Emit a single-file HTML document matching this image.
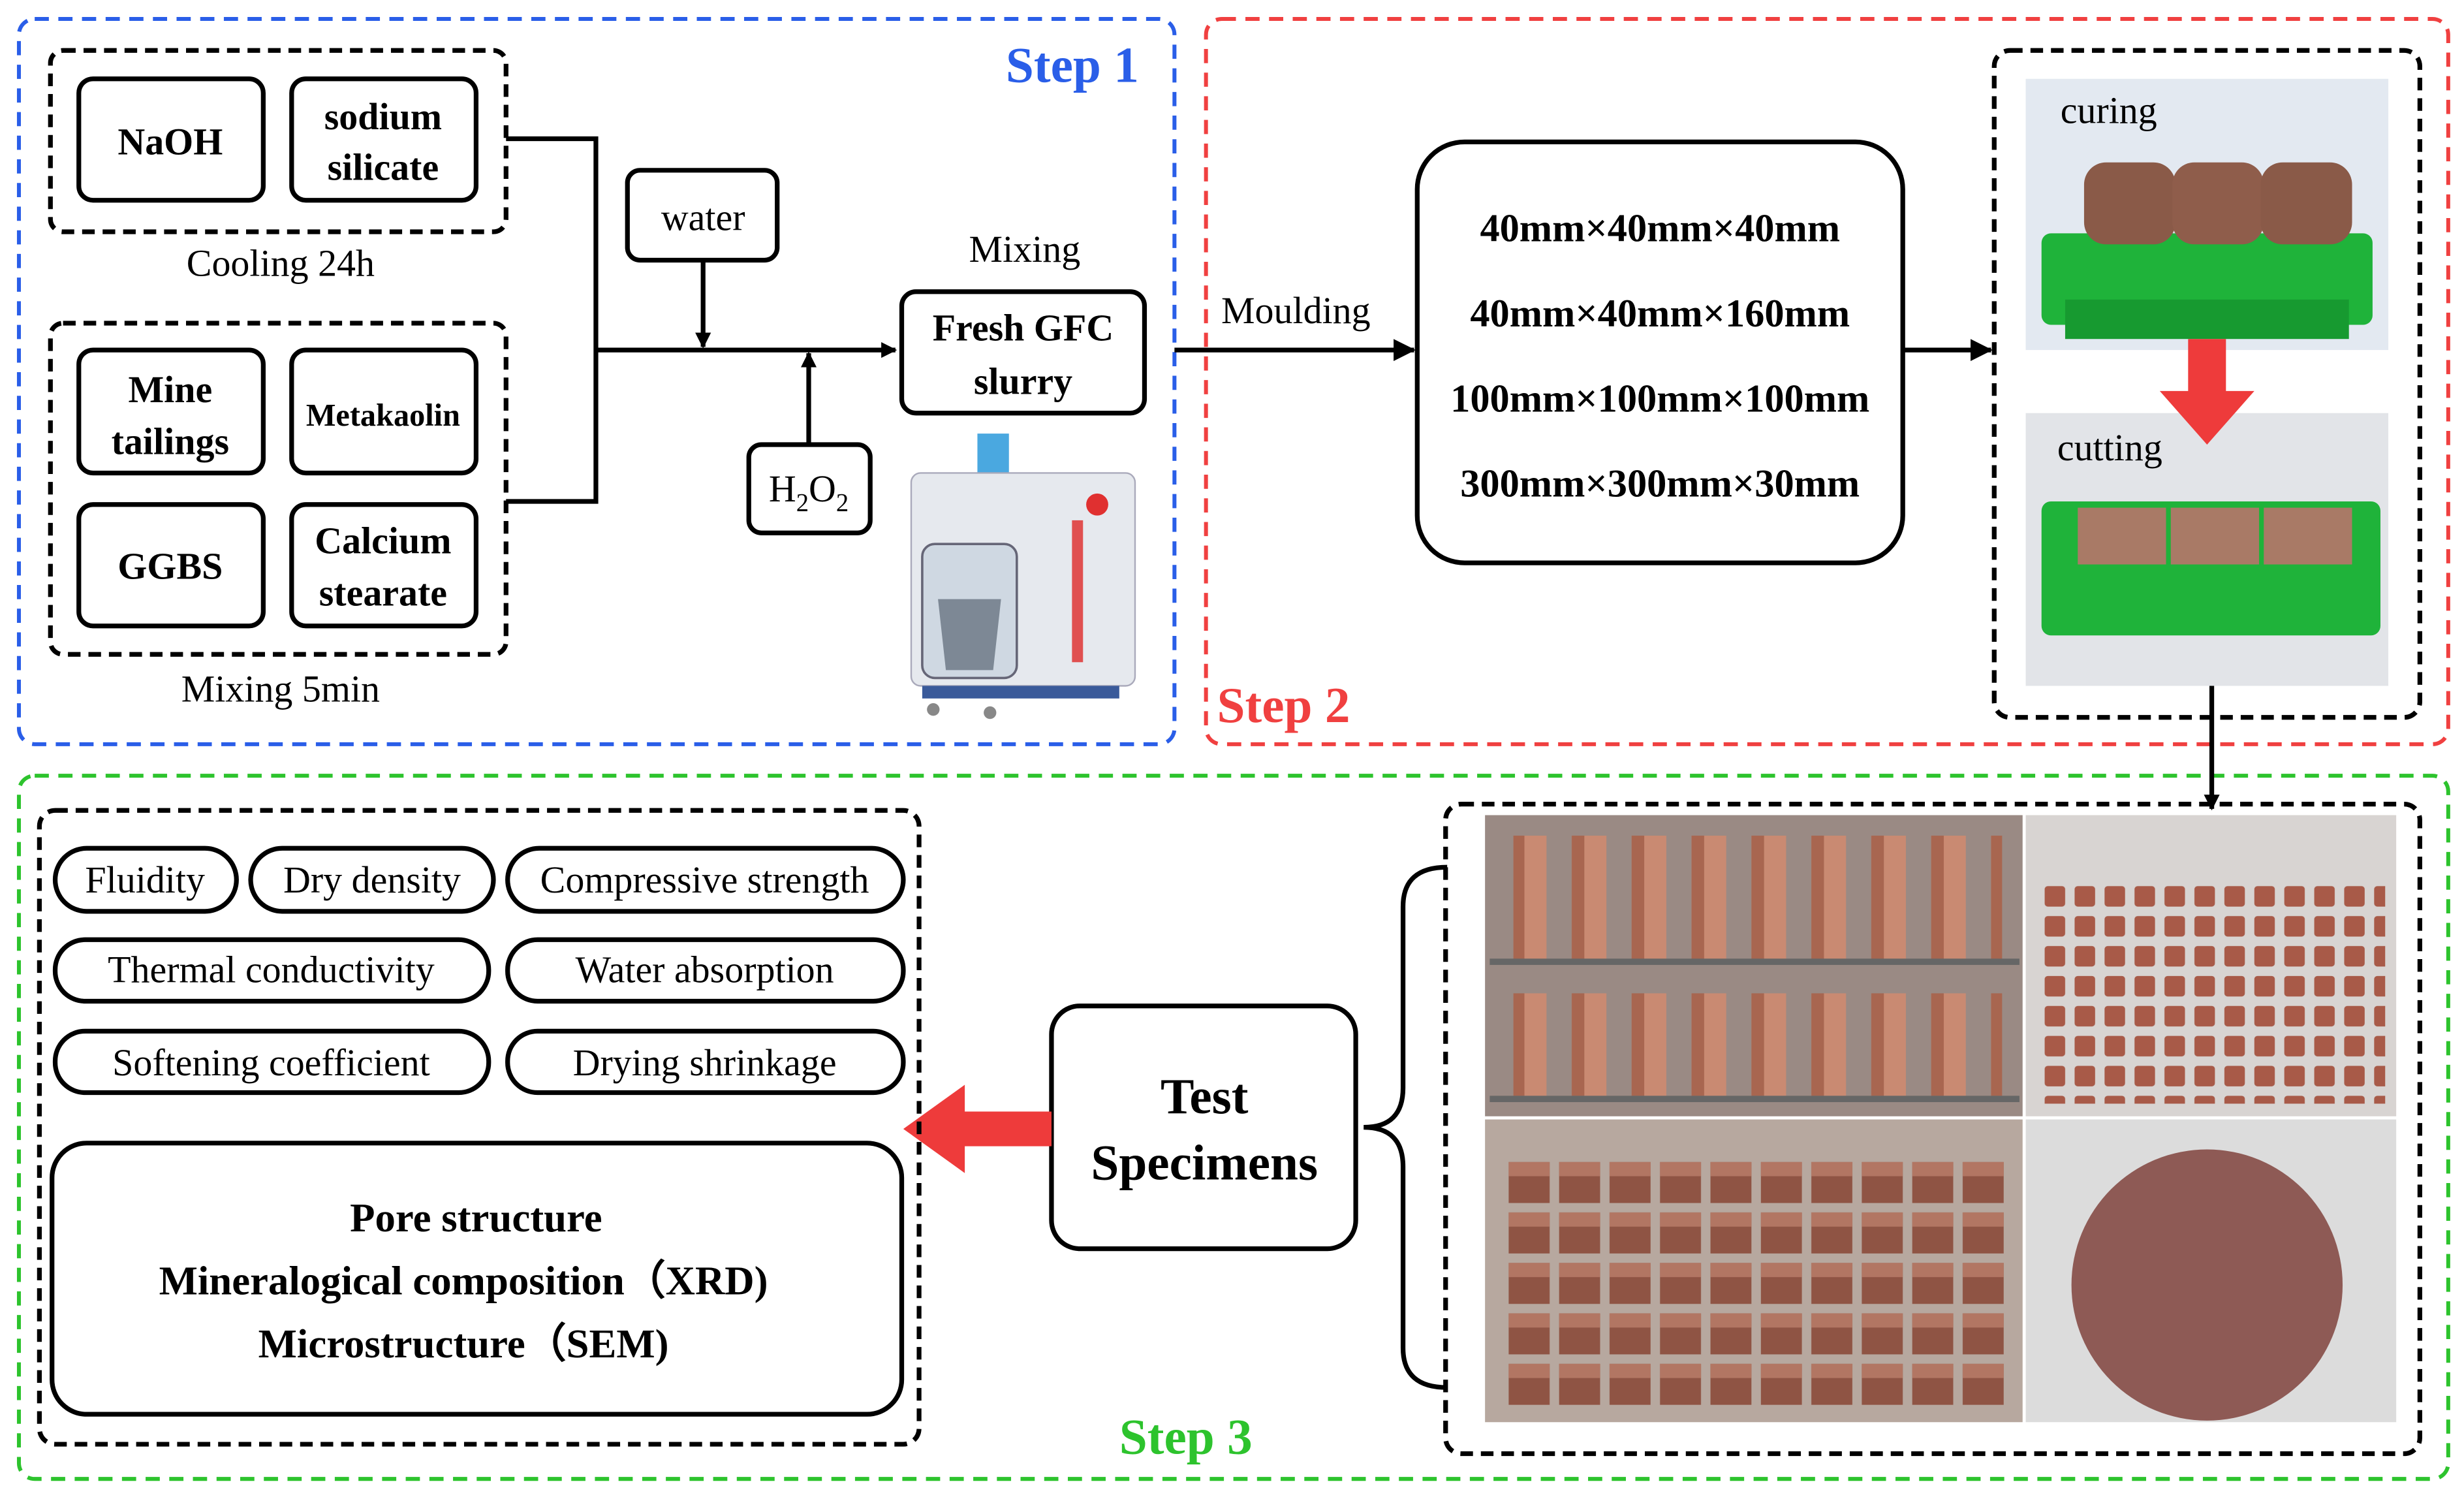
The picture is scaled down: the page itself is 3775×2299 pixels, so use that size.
<!DOCTYPE html>
<html><head><meta charset="utf-8">
<style>
html,body{margin:0;padding:0;background:#fff;}
svg{display:block;}
text{font-family:"Liberation Serif",serif;}
</style></head>
<body>
<svg width="3775" height="2299" viewBox="0 0 1563 952" preserveAspectRatio="none" xmlns="http://www.w3.org/2000/svg">
<defs>
<marker id="ah" markerWidth="10" markerHeight="10" refX="9" refY="5" orient="auto" markerUnits="userSpaceOnUse">
<path d="M0,0 L10,5 L0,10 Z" fill="#000"/></marker>
<marker id="ah2" markerWidth="14" markerHeight="14" refX="13" refY="7" orient="auto" markerUnits="userSpaceOnUse">
<path d="M0,0 L14,7 L0,14 Z" fill="#000"/></marker>
<pattern id="bricks" x="955" y="0" width="38" height="200" patternUnits="userSpaceOnUse">
<rect x="4" y="0" width="22" height="200" fill="#c98a72"/><rect x="4" y="0" width="8" height="200" fill="#a86650"/>
</pattern>
<pattern id="small" x="1295" y="560" width="19" height="19" patternUnits="userSpaceOnUse">
<rect x="2" y="2" width="13" height="13" rx="2" fill="#a85a48"/>
</pattern>
<pattern id="cubes" x="955" y="735" width="32" height="32" patternUnits="userSpaceOnUse">
<rect x="2" y="2" width="26" height="26" fill="#8f5444"/><rect x="2" y="2" width="26" height="9" fill="#b27663"/>
</pattern>
</defs>

<rect x="12" y="12" width="733" height="460" rx="10" fill="none" stroke="#2a5ee8" stroke-width="2.5" stroke-dasharray="9,6"/>
<rect x="765" y="12" width="788" height="460" rx="10" fill="none" stroke="#f04040" stroke-width="2.5" stroke-dasharray="9,6"/>
<rect x="12" y="492" width="1541" height="446" rx="10" fill="none" stroke="#2dc32d" stroke-width="2.5" stroke-dasharray="9,6"/>
<text x="638" y="52" font-size="32" font-weight="bold" fill="#2a5ee8">Step 1</text>
<text x="772" y="458" font-size="32" font-weight="bold" fill="#f04040">Step 2</text>
<text x="710" y="922" font-size="32" font-weight="bold" fill="#2dc32d">Step 3</text>

<g fill="none" stroke="#000" stroke-width="3" stroke-dasharray="8,5">
<rect x="32" y="32" width="289" height="115" rx="8"/>
<rect x="32" y="205" width="289" height="210" rx="8"/>
</g>
<g fill="#fff" stroke="#000" stroke-width="3">
<rect x="50" y="50" width="117" height="77" rx="9"/>
<rect x="185" y="50" width="117" height="77" rx="9"/>
<rect x="50" y="222" width="117" height="78" rx="9"/>
<rect x="185" y="222" width="117" height="78" rx="9"/>
<rect x="50" y="320" width="117" height="77" rx="9"/>
<rect x="185" y="320" width="117" height="77" rx="9"/>
<rect x="398" y="108" width="95" height="57" rx="8"/>
<rect x="475" y="282" width="77" height="56" rx="8"/>
<rect x="572" y="185" width="154" height="77" rx="9"/>
</g>
<g font-weight="bold" font-size="24" text-anchor="middle">
<text x="108" y="98">NaOH</text>
<text x="243" y="82">sodium</text><text x="243" y="114">silicate</text>
<text x="108" y="255">Mine</text><text x="108" y="288">tailings</text>
<text x="243" y="270" font-size="20">Metakaolin</text>
<text x="108" y="367">GGBS</text>
<text x="243" y="351">Calcium</text><text x="243" y="384">stearate</text>
<text x="649" y="216">Fresh GFC</text><text x="649" y="250">slurry</text>
</g>
<g font-size="24" text-anchor="middle">
<text x="178" y="175">Cooling 24h</text>
<text x="178" y="445">Mixing 5min</text>
<text x="446" y="146">water</text>
<text x="650" y="166">Mixing</text>
<text x="513" y="318">H<tspan font-size="16" dy="6">2</tspan><tspan dy="-6">O</tspan><tspan font-size="16" dy="6">2</tspan></text>
</g>
<g stroke="#000" stroke-width="3" fill="none">
<polyline points="321,88 378,88 378,318 321,318"/>
<line x1="378" y1="222" x2="568" y2="222" marker-end="url(#ah)"/>
<line x1="446" y1="165" x2="446" y2="220" marker-end="url(#ah)"/>
<line x1="513" y1="282" x2="513" y2="224" marker-end="url(#ah)"/>
</g>
<g>
<rect x="620" y="275" width="20" height="30" fill="#4aa8e0"/>
<rect x="578" y="300" width="142" height="135" rx="6" fill="#e6e9ee" stroke="#aab" stroke-width="1"/>
<rect x="585" y="345" width="60" height="85" rx="8" fill="#cfd8e2" stroke="#667" stroke-width="1.5"/>
<path d="M595,380 L635,380 L630,425 L600,425 Z" fill="#7d8895"/>
<rect x="680" y="330" width="7" height="90" fill="#e05050"/>
<circle cx="696" cy="320" r="7" fill="#e03030"/>
<rect x="585" y="435" width="125" height="8" fill="#3a5a9a"/>
<circle cx="592" cy="450" r="4" fill="#888"/><circle cx="628" cy="452" r="4" fill="#888"/>
</g>

<line x1="745" y1="222" x2="897" y2="222" stroke="#000" stroke-width="3" marker-end="url(#ah2)"/>
<text x="822" y="205" font-size="24" text-anchor="middle">Moulding</text>
<rect x="899" y="90" width="308" height="267" rx="30" fill="#fff" stroke="#000" stroke-width="3"/>
<g font-weight="bold" font-size="25" text-anchor="middle">
<text x="1053" y="153">40mm×40mm×40mm</text>
<text x="1053" y="207">40mm×40mm×160mm</text>
<text x="1053" y="261">100mm×100mm×100mm</text>
<text x="1053" y="315">300mm×300mm×30mm</text>
</g>
<line x1="1207" y1="222" x2="1263" y2="222" stroke="#000" stroke-width="3" marker-end="url(#ah2)"/>
<rect x="1265" y="32" width="270" height="423" rx="10" fill="none" stroke="#000" stroke-width="3" stroke-dasharray="8,5"/>
<rect x="1285" y="50" width="230" height="172" fill="#e3e9f1"/>
<rect x="1295" y="148" width="210" height="58" rx="6" fill="#1fb33a"/>
<rect x="1310" y="190" width="180" height="25" fill="#179a30"/>
<rect x="1322" y="103" width="58" height="52" rx="14" fill="#8a5a48"/>
<rect x="1378" y="103" width="58" height="52" rx="14" fill="#8f5d4b"/>
<rect x="1434" y="103" width="58" height="52" rx="14" fill="#8a5a48"/>
<rect x="1285" y="262" width="230" height="173" fill="#e2e4e8"/>
<rect x="1295" y="318" width="215" height="85" rx="6" fill="#1fb33a"/>
<rect x="1318" y="322" width="56" height="36" fill="#a97a66"/>
<rect x="1377" y="322" width="56" height="36" fill="#a97a66"/>
<rect x="1436" y="322" width="56" height="36" fill="#a97a66"/>
<text x="1307" y="78" font-size="24">curing</text>
<text x="1305" y="292" font-size="24">cutting</text>
<polygon points="1388,215 1412,215 1412,248 1430,248 1400,282 1370,248 1388,248" fill="#ee3b3b"/>
<line x1="1403" y1="435" x2="1403" y2="513" stroke="#000" stroke-width="3" marker-end="url(#ah)"/>

<rect x="917" y="510" width="618" height="412" rx="10" fill="none" stroke="#000" stroke-width="3" stroke-dasharray="8,5"/>
<rect x="942" y="517" width="341" height="191" fill="#9a8a84"/>
<rect x="960" y="530" width="310" height="80" fill="url(#bricks)"/>
<rect x="945" y="608" width="336" height="4" fill="#666"/>
<rect x="960" y="630" width="310" height="65" fill="url(#bricks)"/>
<rect x="945" y="695" width="336" height="4" fill="#666"/>
<rect x="1285" y="517" width="235" height="191" fill="#d8d4d2"/>
<rect x="1295" y="560" width="218" height="140" fill="url(#small)"/>
<rect x="942" y="710" width="341" height="192" fill="#b7a89f"/>
<rect x="955" y="735" width="320" height="160" fill="url(#cubes)"/>
<rect x="1285" y="710" width="235" height="192" fill="#dcdcdc"/>
<circle cx="1400" cy="815" r="86" fill="#8e5a55"/>
<path d="M918,550 Q890,550 890,575 L890,690 Q890,715 865,715 Q890,715 890,740 L890,855 Q890,880 918,880" fill="none" stroke="#000" stroke-width="3"/>
<rect x="667" y="638" width="193" height="154" rx="18" fill="#fff" stroke="#000" stroke-width="3"/>
<text x="764" y="706" font-size="32" font-weight="bold" text-anchor="middle">Test</text>
<text x="764" y="748" font-size="32" font-weight="bold" text-anchor="middle">Specimens</text>
<polygon points="667,705 612,705 612,688 573,716 612,744 612,727 667,727" fill="#ee3b3b"/>

<rect x="25" y="514" width="558" height="402" rx="10" fill="none" stroke="#000" stroke-width="3" stroke-dasharray="8,5"/>
<g fill="#fff" stroke="#000" stroke-width="3">
<rect x="35" y="538" width="115" height="40" rx="20"/>
<rect x="159" y="538" width="154" height="40" rx="20"/>
<rect x="322" y="538" width="251" height="40" rx="20"/>
<rect x="35" y="596" width="275" height="39" rx="19"/>
<rect x="322" y="596" width="251" height="39" rx="19"/>
<rect x="35" y="654" width="275" height="39" rx="19"/>
<rect x="322" y="654" width="251" height="39" rx="19"/>
<rect x="33" y="725" width="539" height="172" rx="22"/>
</g>
<g font-size="24" text-anchor="middle">
<text x="92" y="566">Fluidity</text>
<text x="236" y="566">Dry density</text>
<text x="447" y="566">Compressive strength</text>
<text x="172" y="623">Thermal conductivity</text>
<text x="447" y="623">Water absorption</text>
<text x="172" y="682">Softening coefficient</text>
<text x="447" y="682">Drying shrinkage</text>
</g>
<g font-size="26" font-weight="bold" text-anchor="middle">
<text x="302" y="781">Pore structure</text>
<text x="294" y="821">Mineralogical composition（XRD)</text>
<text x="294" y="861">Microstructure（SEM)</text>
</g>
</svg>
</body></html>
